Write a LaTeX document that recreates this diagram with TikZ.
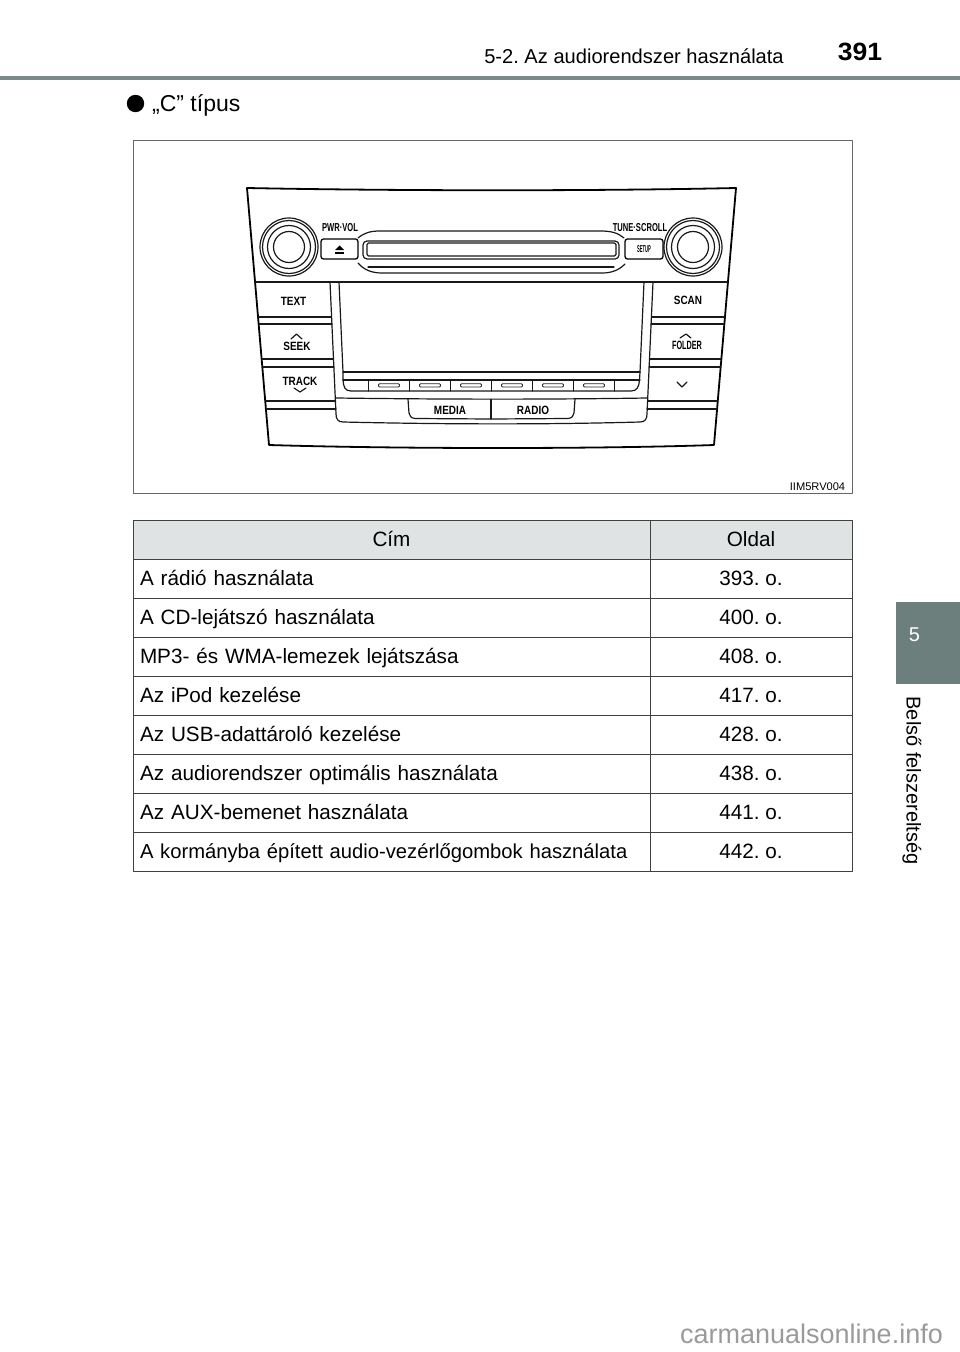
\documentclass[tikz,border=0pt]{standalone}
\usepackage{fontspec}
\setmainfont{Liberation Sans}
\frenchspacing
\definecolor{tabgrey}{HTML}{6D7F7C}
\definecolor{rulegrey}{HTML}{7B8B89}
\definecolor{headgrey}{HTML}{DFE3E3}
\definecolor{markgrey}{HTML}{9A9A9A}
\tikzset{
	panelline/.style={line width=1.2pt, black!90},
	cellbase/.style={draw=black!75, line width=0.9pt, minimum height=39pt, outer sep=0pt, text height=17pt, text depth=2.5pt, font=\fontsize{20.7}{25}\selectfont},
	titlecell/.style={cellbase, fill=headgrey, anchor=west, align=center, inner sep=0pt},
	namecell/.style={cellbase, anchor=west, minimum width=517pt, text width=503pt, inner xsep=7pt, inner ysep=0pt, align=left},
	pagecell/.style={cellbase, anchor=west, minimum width=202pt, inner sep=0pt},
	btnlabel/.style={font=\fontsize{12}{13}\selectfont\bfseries, inner sep=0pt, xscale=0.83},
	toplabel/.style={font=\fontsize{11.5}{13}\selectfont\bfseries, inner sep=0pt, xscale=0.66},
	softslot/.style={line width=0.8pt, black!85, rounded corners=1pt}
}
\begin{document}
\begin{tikzpicture}[x=1pt, y=-1pt, line join=round, line cap=round]
	\useasboundingbox (0, 0) rectangle (960, 1352);
	
	% Page head
	\node[anchor=base, font=\fontsize{20.1}{25}\selectfont, inner sep=0pt] (headtitle) at (634, 63) {5-2. Az audiorendszer használata};
	\node[anchor=base, font=\fontsize{25}{25}\selectfont\bfseries, inner sep=0pt, xscale=1.06] (headpage) at (860, 60.7) {391};
	\fill[rulegrey] (0, 76) rectangle (960, 80);
	\fill[black] (135.5, 103.5) circle (8.7pt);
	\node[anchor=base west, font=\fontsize{23}{28}\selectfont, inner sep=0pt] (typetitle) at (152, 111.5) {„C” típus};
	
	% Side tab
	\fill[tabgrey] (896, 602) rectangle (960, 684);
	\node[text=white, font=\fontsize{20}{24}\selectfont, inner sep=0pt] (tabnum) at (914.5, 635) {5};
	\node[rotate=-90, font=\fontsize{20}{25}\selectfont, inner sep=0pt] (tabtext) at (912, 780.5) {Belső felszereltség};
	
	% Picture frame
	\draw[black!60, line width=1pt] (133, 140) rectangle (852, 493);
	\node[font=\fontsize{11.1}{14}\selectfont, inner sep=0pt] (picid) at (817.5, 487) {IIM5RV004};
	
	% Panel outline
	\draw[line width=1.8pt] (247, 188) .. controls (400, 191) and (600, 191) .. (736, 188) -- (714, 445) .. controls (600, 449) and (400, 449) .. (269, 445) -- cycle;
	\draw[panelline] (255.5, 282) -- (727.5, 282);
	
	% Knobs
	\draw[panelline] (289, 247) circle (29pt) (289, 247) circle (26.5pt) (289, 247) circle (21.5pt) (289, 247) circle (15.5pt);
	\draw[panelline] (693, 247) circle (29pt) (693, 247) circle (26.5pt) (693, 247) circle (21.5pt) (693, 247) circle (15.5pt);
	
	% Disc slot
	\draw[panelline] (358, 238) .. controls (364, 233) and (370, 231) .. (380, 231) -- (600, 231) .. controls (612, 231) and (618, 233) .. (624, 238);
	\draw[panelline] (358, 263) .. controls (364, 270) and (372, 273) .. (382, 273) -- (602, 273) .. controls (612, 273) and (619, 270) .. (625, 264);
	\draw[panelline, rounded corners=4pt] (363, 241) rectangle (619, 259);
	\draw[panelline, rounded corners=1.5pt] (367, 243) rectangle (616, 256);
	\draw[panelline] (368, 267) -- (614, 267);
	
	% Eject and setup
	\draw[line width=1.3pt, rounded corners=2.5pt] (321, 239) rectangle (358, 259);
	\draw[line width=1.3pt, rounded corners=2.5pt] (625, 239) rectangle (663, 259);
	\fill[black] (335, 250) -- (339.5, 245.5) -- (344, 250) -- cycle;
	\fill[black] (335, 251.5) rectangle (344, 253.5);
	\node[toplabel] (pwrvol) at (340, 228) {PWR·VOL};
	\node[toplabel] (tunescroll) at (640, 228) {TUNE·SCROLL};
	\node[toplabel, font=\fontsize{10}{11}\selectfont\bfseries, xscale=0.62] (setup) at (644, 249) {SETUP};
	
	% Screen
	\draw[panelline] (339, 282) -- (343, 372) -- (343, 380) .. controls (343.5, 387) and (345, 391) .. (351, 391) -- (631, 391) .. controls (637, 391) and (639, 387) .. (639.5, 380) -- (640, 372) -- (644, 282);
	\draw[panelline] (343, 372) -- (640, 372);
	\draw[panelline] (343, 380) -- (640, 380);
	
	% Soft keys
	\draw[panelline] (368.7, 380) -- (368.7, 391);
	\draw[panelline] (409.3, 380) -- (409.3, 391);
	\draw[panelline] (450.3, 380) -- (450.3, 391);
	\draw[panelline] (491.3, 380) -- (491.3, 391);
	\draw[panelline] (532.3, 380) -- (532.3, 391);
	\draw[panelline] (573.7, 380) -- (573.7, 391);
	\draw[panelline] (614.3, 380) -- (614.3, 391);
	\draw[softslot] (378.5, 383.7) rectangle (399.5, 387);
	\draw[softslot] (419.5, 383.7) rectangle (440.5, 387);
	\draw[softslot] (460.5, 383.7) rectangle (481.5, 387);
	\draw[softslot] (501.5, 383.7) rectangle (522.5, 387);
	\draw[softslot] (542.5, 383.7) rectangle (563.5, 387);
	\draw[softslot] (583.5, 383.7) rectangle (604.5, 387);
	
	% Lower tray
	\draw[panelline] (336, 398) .. controls (450, 399.5) and (550, 399.5) .. (647, 398);
	\draw[panelline] (330, 282) -- (336, 414) .. controls (336, 419) and (338, 422) .. (343, 422) .. controls (450, 424.5) and (550, 424.5) .. (640, 422) .. controls (645, 422) and (647, 419) .. (647, 414) -- (653, 282);
	\draw[panelline] (408, 399) -- (409, 413) .. controls (409.5, 416) and (411, 418) .. (415, 418.5) -- (491, 419) -- (568, 418.5) .. controls (572, 418) and (573.5, 416) .. (574, 413) -- (575, 399);
	\draw[panelline] (491, 399.5) -- (491, 419);
	\node[btnlabel] (media) at (450, 410) {MEDIA};
	\node[btnlabel] (radio) at (533, 410) {RADIO};
	
	% Left buttons
	\draw[panelline] (258.5, 317) -- (331.5, 317);
	\draw[panelline] (259, 324) -- (332, 324);
	\draw[panelline] (262, 359) -- (333.5, 359);
	\draw[panelline] (262.5, 367) -- (334, 367);
	\draw[panelline] (265.5, 401) -- (335.5, 401);
	\draw[panelline] (266, 409) -- (336, 409);
	\node[btnlabel] (text) at (293.5, 301) {TEXT};
	\node[btnlabel] (seek) at (297, 346) {SEEK};
	\node[btnlabel] (track) at (300, 381) {TRACK};
	\draw[panelline] (291, 339) -- (296.5, 334) -- (302, 339);
	\draw[panelline] (294, 388) -- (300, 392) -- (306, 388);
	
	% Right buttons
	\draw[panelline] (651.5, 317) -- (724.5, 317);
	\draw[panelline] (651, 324) -- (724, 324);
	\draw[panelline] (649.5, 359) -- (721, 359);
	\draw[panelline] (649, 367) -- (720.5, 367);
	\draw[panelline] (647.5, 401) -- (717.5, 401);
	\draw[panelline] (647, 409) -- (717, 409);
	\node[btnlabel] (scan) at (688, 300) {SCAN};
	\node[btnlabel, xscale=0.73] (folder) at (687, 345) {FOLDER};
	\draw[panelline] (680, 338) -- (686, 334) -- (691, 338);
	\draw[panelline] (677, 382) -- (682, 387) -- (687, 382);
	
	% Table
	\node[titlecell, minimum width=517pt] (titlename) at (133, 539.5) {Cím};
	\node[titlecell, minimum width=202pt] (titlepage) at (650, 539.5) {Oldal};
	\node[namecell] (name1) at (133, 578.5) {A rádió használata};
	\node[pagecell] (page1) at (650, 578.5) {393. o.};
	\node[namecell] (name2) at (133, 617.5) {A CD-lejátszó használata};
	\node[pagecell] (page2) at (650, 617.5) {400. o.};
	\node[namecell] (name3) at (133, 656.5) {MP3- és WMA-lemezek lejátszása};
	\node[pagecell] (page3) at (650, 656.5) {408. o.};
	\node[namecell] (name4) at (133, 695.5) {Az iPod kezelése};
	\node[pagecell] (page4) at (650, 695.5) {417. o.};
	\node[namecell] (name5) at (133, 734.5) {Az USB-adattároló kezelése};
	\node[pagecell] (page5) at (650, 734.5) {428. o.};
	\node[namecell] (name6) at (133, 773.5) {Az audiorendszer optimális használata};
	\node[pagecell] (page6) at (650, 773.5) {438. o.};
	\node[namecell] (name7) at (133, 812.5) {Az AUX-bemenet használata};
	\node[pagecell] (page7) at (650, 812.5) {441. o.};
	\node[namecell, font=\fontsize{20.2}{25}\selectfont] (name8) at (133, 851.5) {A kormányba épített audio-vezérlőgombok használata};
	\node[pagecell] (page8) at (650, 851.5) {442. o.};
	
	% Site mark
	\node[anchor=base, text=markgrey, font=\fontsize{27}{30}\selectfont, inner sep=0pt] (sitemark) at (811.5, 1343) {carmanualsonline.info};
\end{tikzpicture}
\end{document}
